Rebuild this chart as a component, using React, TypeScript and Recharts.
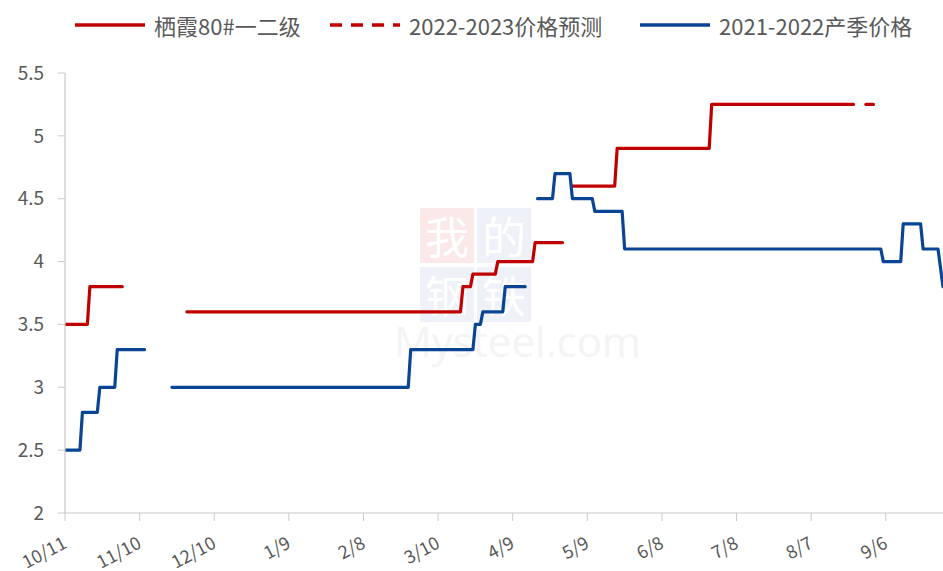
import React from "react";
import { LineChart, Line, XAxis, YAxis } from "recharts";

// 日期轴：以 10/11 为第 0 天，每 30 天一个刻度
const tickDays = [0, 30, 60, 90, 120, 150, 180, 210, 240, 270, 300, 330];
const tickLabels = ["10/11", "11/10", "12/10", "1/9", "2/8", "3/10", "4/9", "5/9", "6/8", "7/8", "8/7", "9/6"];
const yTicks = [2, 2.5, 3, 3.5, 4, 4.5, 5, 5.5];

// 栖霞80#一二级（null 处断开）
const redDays = [0, 9, 10, 23, 36, 49, 159, 160, 163, 164, 173, 174, 188, 189, 200, 202, 204, 221, 222, 259, 260, 317];
const redValues = [3.5, 3.5, 3.8, 3.8, null, 3.6, 3.6, 3.8, 3.8, 3.9, 3.9, 4.0, 4.0, 4.15, 4.15, null, 4.6, 4.6, 4.9, 4.9, 5.25, 5.25];

// 2022-2023价格预测
const forecastDays = [322, 325];
const forecastValues = [5.25, 5.25];

// 2021-2022产季价格
const blueDays = [0, 6, 7, 13, 14, 20, 21, 32, 38, 43, 138, 139, 164, 165, 167, 168, 176, 177, 185, 187, 190, 196, 197, 203, 204, 212, 213, 224, 225, 328, 329, 336, 337, 344, 345, 351, 353];
const blueValues = [2.5, 2.5, 2.8, 2.8, 3.0, 3.0, 3.3, 3.3, null, 3.0, 3.0, 3.3, 3.3, 3.5, 3.5, 3.6, 3.6, 3.8, 3.8, null, 4.5, 4.5, 4.7, 4.7, 4.5, 4.5, 4.4, 4.4, 4.1, 4.1, 4.0, 4.0, 4.3, 4.3, 4.1, 4.1, 3.8];

const RED = "#C00000";
const BLUE = "#0A4595";
const TEXT = "#595959";
const AXIS = "#C9C9C9";
const FONT = "'Noto Sans CJK SC', 'Noto Sans', sans-serif";

const toRows = (days: number[], values: (number | null)[]) =>
  days.map((d, i) => ({ day: d, v: values[i] }));

const redData = toRows(redDays, redValues);
const forecastData = toRows(forecastDays, forecastValues);
const blueData = toRows(blueDays, blueValues);

function XTick(props: any) {
  const { x, y, payload } = props;
  const idx = tickDays.indexOf(payload.value);
  const tx = x + 3;
  const ty = y + 24;
  return (
    <text
      x={tx}
      y={ty}
      transform={`rotate(-28 ${tx} ${ty})`}
      textAnchor="end"
      fill={TEXT}
      fontSize={18}
      fontFamily={FONT}
    >
      {tickLabels[idx]}
    </text>
  );
}

function LegendItem({ color, dashed, label, left }: { color: string; dashed?: boolean; label: string; left: number }) {
  return (
    <div style={{ position: "absolute", left, top: 10, height: 30, display: "flex", alignItems: "center" }}>
      <svg width={72} height={8} style={{ marginRight: 8 }}>
        <line
          x1={1}
          y1={4}
          x2={71}
          y2={4}
          stroke={color}
          strokeWidth={3.5}
          strokeDasharray={dashed ? "12 9" : undefined}
        />
      </svg>
      <span style={{ fontFamily: FONT, fontSize: 22, color: TEXT, whiteSpace: "nowrap" }}>{label}</span>
    </div>
  );
}

function Watermark() {
  const box = (left: number, top: number, bg: string, ch: string) => (
    <div
      style={{
        position: "absolute",
        left,
        top,
        width: 54,
        height: 55,
        background: bg,
        color: "#ffffff",
        fontFamily: FONT,
        fontSize: 44,
        lineHeight: "55px",
        textAlign: "center",
      }}
    >
      {ch}
    </div>
  );
  return (
    <div style={{ position: "absolute", left: 0, top: 0, width: 943, height: 571 }}>
      {box(420, 208, "#FBE8E8", "我")}
      {box(477, 208, "#EEF1F7", "的")}
      {box(420, 267, "#EEF1F7", "钢")}
      {box(477, 267, "#EEF1F7", "铁")}
      <div
        style={{
          position: "absolute",
          left: 394,
          top: 312,
          fontFamily: "'Open Sans', sans-serif",
          fontSize: 42,
          color: "#F4F4F4",
          whiteSpace: "nowrap",
        }}
      >
        Mysteel.com
      </div>
    </div>
  );
}

export default function App() {
  return (
    <div style={{ position: "relative", width: 943, height: 571, background: "#fff", overflow: "hidden" }}>
      <style>{`body{margin:0}`}</style>
      <Watermark />
      <LegendItem color={RED} label="栖霞80#一二级" left={74} />
      <LegendItem color={RED} dashed label="2022-2023价格预测" left={329} />
      <LegendItem color={BLUE} label="2021-2022产季价格" left={639} />
      <div style={{ position: "absolute", left: 0, top: 0 }}>
        <LineChart width={943} height={571} margin={{ top: 73, right: 0, bottom: 0, left: 0 }}>
          <XAxis
            type="number"
            dataKey="day"
            domain={[0, 353]}
            ticks={tickDays}
            allowDataOverflow
            height={58}
            stroke={AXIS}
            tickSize={8}
            tickLine={{ stroke: AXIS }}
            axisLine={{ stroke: AXIS, strokeWidth: 1.2 }}
            tick={<XTick />}
            interval={0}
          />
          <YAxis
            type="number"
            domain={[2, 5.5]}
            ticks={yTicks}
            width={65}
            allowDataOverflow
            tickSize={7}
            tickMargin={14}
            tickLine={{ stroke: AXIS }}
            axisLine={{ stroke: AXIS, strokeWidth: 1.2 }}
            tick={{ fill: TEXT, fontSize: 19, fontFamily: FONT }}
          />
          <Line
            data={redData}
            dataKey="v"
            type="linear"
            stroke={RED}
            strokeWidth={3.2}
            dot={false}
            activeDot={false}
            connectNulls={false}
            strokeLinejoin="round"
            strokeLinecap="round"
            isAnimationActive={false}
          />
          <Line
            data={forecastData}
            dataKey="v"
            type="linear"
            stroke={RED}
            strokeWidth={3.2}
            strokeDasharray="10 6"
            dot={false}
            activeDot={false}
            strokeLinecap="round"
            isAnimationActive={false}
          />
          <Line
            data={blueData}
            dataKey="v"
            type="linear"
            stroke={BLUE}
            strokeWidth={3.2}
            dot={false}
            activeDot={false}
            connectNulls={false}
            strokeLinejoin="round"
            strokeLinecap="round"
            isAnimationActive={false}
          />
        </LineChart>
      </div>
    </div>
  );
}
